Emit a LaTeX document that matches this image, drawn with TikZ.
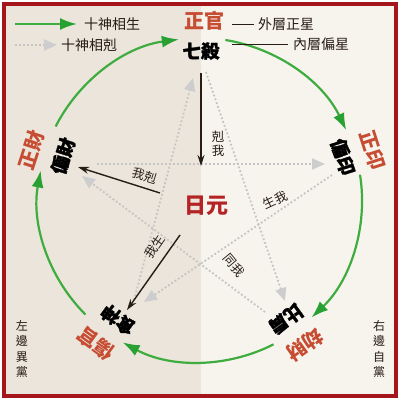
\documentclass[tikz,border=0pt]{standalone}
\usepackage{fontspec}
\newfontfamily\cjk{Noto Sans CJK TC}
\newfontfamily\cjkheavy[BoldFeatures={FakeBold=1.6}]{Noto Sans CJK TC}
\usetikzlibrary{arrows.meta}
\definecolor{bgL}{RGB}{236,229,219}
\definecolor{bgR}{RGB}{247,244,238}
\definecolor{framered}{RGB}{165,22,28}
\definecolor{outred}{RGB}{198,76,50}
\definecolor{ryred}{RGB}{180,36,36}
\definecolor{grn}{RGB}{62,172,62}
\definecolor{grnd}{RGB}{40,160,50}
\definecolor{gryline}{RGB}{196,196,196}
\definecolor{gryhead}{RGB}{205,205,205}
\definecolor{ink}{RGB}{40,28,22}
\begin{document}
\begin{tikzpicture}[x=1pt,y=1pt,
  outer/.style={font=\cjk\bfseries\fontsize{20}{20}\selectfont, text=outred, inner sep=0.5pt},
  innerlab/.style={font=\cjkheavy\bfseries\fontsize{18.5}{18.5}\selectfont, text=black, inner sep=0.5pt},
  rylab/.style={font=\cjk\bfseries\fontsize{22}{22}\selectfont, text=ryred, inner sep=1pt},
  small/.style={font=\cjk\fontsize{12.5}{14}\selectfont, text=ink, inner sep=1pt},
  legend/.style={font=\cjk\fontsize{14}{14}\selectfont, text=ink, inner sep=0pt, anchor=west},
  side/.style={font=\cjk\fontsize{12}{15.5}\selectfont, text=ink, inner sep=0pt, align=center},
  gen/.style={draw=grn, line width=2.2pt, -{Latex[length=17pt,width=12pt,color=grnd]}},
  ovc/.style={draw=gryline, line width=1.8pt, dash pattern=on 1.8pt off 2.2pt,
    -{Triangle[length=13pt,width=11pt,color=gryhead]}},
  blk/.style={draw=ink, line width=1.4pt, -{Stealth[length=11pt,width=7pt]}},
  lgline/.style={draw=ink, line width=0.9pt}]
% background and frame
\useasboundingbox (0,0) rectangle (400,400);
\fill[white] (0,0) rectangle (400,400);
\fill[bgL] (5,5) rectangle (201,395);
\fill[bgR] (201,5) rectangle (395,395);
\draw[framered, line width=4pt] (4,4) rectangle (396,396);
\coordinate (C) at (200,200);
% overcoming cycle (gray dotted pentagram)
\coordinate (g1a) at (206,328); \coordinate (g1b) at (285,99);
\coordinate (g2a) at (265,88);  \coordinate (g2b) at (82,224);
\coordinate (g3a) at (97,236);  \coordinate (g3b) at (325,236);
\coordinate (g4a) at (332,225); \coordinate (g4b) at (144,98);
\coordinate (g5a) at (134,100); \coordinate (g5b) at (193,322);
\draw[ovc] (g1a) -- (g1b);
\draw[ovc] (g2a) -- (g2b);
\draw[ovc] (g3a) -- (g3b);
\draw[ovc] (g4a) -- (g4b);
\draw[ovc] (g5a) -- (g5b);
% black arrows of the day master
\coordinate (b1a) at (201,327); \coordinate (b1b) at (201,234);
\coordinate (b2a) at (160,207); \coordinate (b2b) at (78,233);
\coordinate (b3a) at (180,165); \coordinate (b3b) at (127,90);
\draw[blk] (b1a) -- (b1b);
\draw[blk] (b2a) -- (b2b);
\draw[blk] (b3a) -- (b3b);
% generating cycle (green arcs)
\foreach \a in {90,18,-54,-126,-198}{
  \draw[gen] ([shift={(\a-9:162)}]C) arc[start angle=\a-9, end angle=\a-64.5, radius=162];
}
% legend
\coordinate (lg1a) at (15,376); \coordinate (lg1b) at (77,376);
\coordinate (lg2a) at (15,355); \coordinate (lg2b) at (57,355);
\draw[gen] (lg1a) -- (lg1b);
\draw[ovc] (lg2a) -- (lg2b);
\node[legend] (lt1) at (84,376) {十神相生};
\node[legend] (lt2) at (61,355) {十神相剋};
\coordinate (lr1a) at (232,376); \coordinate (lr1b) at (254,376);
\coordinate (lr2a) at (232,356); \coordinate (lr2b) at (288,356);
\draw[lgline] (lr1a) -- (lr1b);
\draw[lgline] (lr2a) -- (lr2b);
\node[legend] (rt1) at (258,376) {外層正星};
\node[legend] (rt2) at (293,356) {內層偏星};
% outer (red) labels
\node[outer] (zg) at (204,379) {正官};
\node[outer,rotate=72] (zc) at (31,250) {正財};
\node[outer,rotate=-72] (zy) at (373,250) {正印};
\node[outer,rotate=144] (sg) at (96,56) {傷官};
\node[outer,rotate=-144] (jc) at (305,55) {劫財};
% inner (black) labels
\node[innerlab] (qs) at (201,349) {七殺};
\node[innerlab,rotate=72] (pc) at (63,244) {偏財};
\node[innerlab,rotate=-72] (py) at (343,243) {偏印};
\node[innerlab,rotate=144] (ss) at (118,80) {食神};
\node[innerlab,rotate=-144] (bj) at (286,81) {比肩};
% day master
\node[rylab] (ry) at (206,194) {日元};
% relation labels
\node[small, align=center] (l1) at (218,256) {剋\\我};
\node[small, rotate=-17] (l2) at (145,224) {我剋};
\node[small, rotate=55] (l3) at (155,153) {我生};
\node[small, rotate=25] (l4) at (275,200) {生我};
\node[small, rotate=-50] (l5) at (234,135) {同我};
% side notes
\node[side] (sl) at (22,51) {左\\邊\\異\\黨};
\node[side] (sr) at (379,51) {右\\邊\\自\\黨};
\end{tikzpicture}
\end{document}
